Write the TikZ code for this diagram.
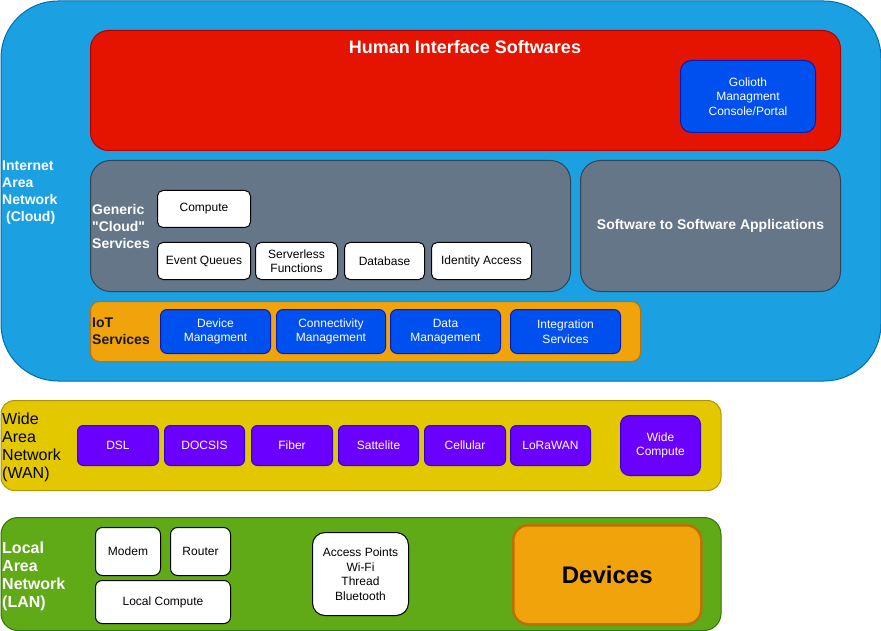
\documentclass[tikz,border=0pt]{standalone}
\usepackage{fontspec}
\setmainfont{Liberation Sans}[Ligatures=TeXOff]
\definecolor{cloudF}{HTML}{1BA1E2}\definecolor{cloudS}{HTML}{006EAF}
\definecolor{redF}{HTML}{E51400}\definecolor{redS}{HTML}{B20000}
\definecolor{blueF}{HTML}{0050EF}\definecolor{blueS}{HTML}{001DBC}
\definecolor{grayF}{HTML}{647687}\definecolor{grayS}{HTML}{314354}
\definecolor{orF}{HTML}{F0A30A}\definecolor{orS}{HTML}{BD7000}
\definecolor{yelF}{HTML}{E3C800}\definecolor{yelS}{HTML}{B09500}
\definecolor{purF}{HTML}{6A00FF}\definecolor{purS}{HTML}{3700CC}
\definecolor{grnF}{HTML}{60A917}\definecolor{grnS}{HTML}{2D7600}
\tikzset{
  bx/.style n args={3}{draw, line width=1pt, inner sep=0pt, anchor=north west, align=center,
     minimum width=#1, minimum height=#2, rounded corners=#3},
  txt/.style={font=\fontsize{12}{14.5}\selectfont},
  wbox/.style={fill=white, draw=black, text=black, txt},
  bbox/.style={fill=blueF, draw=blueS, text=white, txt},
  pbox/.style={fill=purF, draw=purS, text=white, txt},
  lbl/.style={anchor=north west, align=left, inner sep=0pt, font=\fontsize{14}{17}\selectfont\bfseries},
}
\begin{document}
\begin{tikzpicture}[x=1pt,y=-1pt]
\useasboundingbox (0,0) rectangle (881,631);
% Cloud
\node[bx={880}{380}{57}, fill=cloudF, draw=cloudS] (cloud) at (0.5,0.5) {};
\node[lbl, text=white] (cloudlbl) at (2,161) {Internet\\Area\\Network\\\hspace{4pt}(Cloud)};
% Human interface
\node[bx={750}{120}{18}, fill=redF, draw=redS] (hi) at (90,30) {};
\node[text=white, font=\fontsize{18}{20}\selectfont\bfseries, inner sep=0pt] (hit) at (465,47) {Human Interface Softwares};
\node[bx={135}{72}{11}, bbox] (gol) at (680,60) {Golioth\\Managment\\Console/Portal};
% Generic cloud services
\node[bx={480}{131}{20}, fill=grayF, draw=grayS] (gen) at (90,160) {};
\node[lbl, text=white] (genl) at (92,204) {Generic\\"Cloud"\\Services};
\node[bx={93}{37}{5.5}, wbox] (comp) at (157,190) {Compute};
\node[bx={93}{37}{5.5}, wbox] (evq) at (157,242) {Event Queues};
\node[bx={82}{37}{5.5}, wbox] (srv) at (255,242) {Serverless\\Functions};
\node[bx={80}{37}{5.5}, wbox] (db) at (344,242) {Database};
\node[bx={100}{37}{5.5}, wbox] (ida) at (431,242) {Identity Access};
\node[bx={260}{131}{20}, fill=grayF, draw=grayS, text=white, font=\fontsize{14}{16}\selectfont\bfseries] (s2s) at (580,160) {Software to Software Applications};
% IoT
\node[bx={550}{60}{9}, fill=orF, draw=orS] (iot) at (90,301) {};
\node[lbl, text=black!90] (iotl) at (92,318) {IoT\\Services};
\node[bx={110}{44}{6.6}, bbox] (dm) at (160,309) {Device\\Managment};
\node[bx={109}{44}{6.6}, bbox] (cm) at (276,309) {Connectivity\\Management};
\node[bx={110}{44}{6.6}, bbox] (dam) at (390,309) {Data\\Management};
\node[bx={110}{44}{6.6}, bbox] (ints) at (510,309) {Integration\\Services};
% WAN
\node[bx={720}{90}{13.5}, fill=yelF, draw=yelS] (wan) at (0.5,400) {};
\node[lbl, text=black, font=\fontsize{16}{18}\selectfont] (wanl) at (2,413) {Wide\\Area\\Network\\(WAN)};
\node[bx={81}{40}{6}, pbox] (dsl) at (77,425) {DSL};
\node[bx={80}{40}{6}, pbox] (doc) at (164,425) {DOCSIS};
\node[bx={81}{40}{6}, pbox] (fib) at (251,425) {Fiber};
\node[bx={80}{40}{6}, pbox] (sat) at (338,425) {Sattelite};
\node[bx={81}{40}{6}, pbox] (cel) at (424,425) {Cellular};
\node[bx={80}{40}{6}, pbox] (lora) at (510,425) {LoRaWAN};
\node[bx={80}{60}{9}, pbox] (wc) at (620,415) {Wide\\Compute};
% LAN
\node[bx={720}{113}{17}, fill=grnF, draw=grnS] (lan) at (0.5,517) {};
\node[lbl, text=white, font=\fontsize{16}{18}\selectfont\bfseries] (lanl) at (2,542) {Local\\Area\\Network\\(LAN)};
\node[bx={65}{48}{7}, wbox] (mod) at (95,527) {Modem};
\node[bx={60}{48}{7}, wbox] (rout) at (170,527) {Router};
\node[bx={135}{43}{6.5}, wbox] (lc) at (95,580) {Local Compute};
\node[bx={96}{83}{12.5}, wbox] (ap) at (312,532) {Access Points\\Wi-Fi\\Thread\\Bluetooth};
\node[bx={188}{99}{15}, fill=orF, draw=orS, line width=2.5pt, text=black, font=\fontsize{24}{28}\selectfont\bfseries] (dev) at (512,524) {Devices};
\end{tikzpicture}
\end{document}
